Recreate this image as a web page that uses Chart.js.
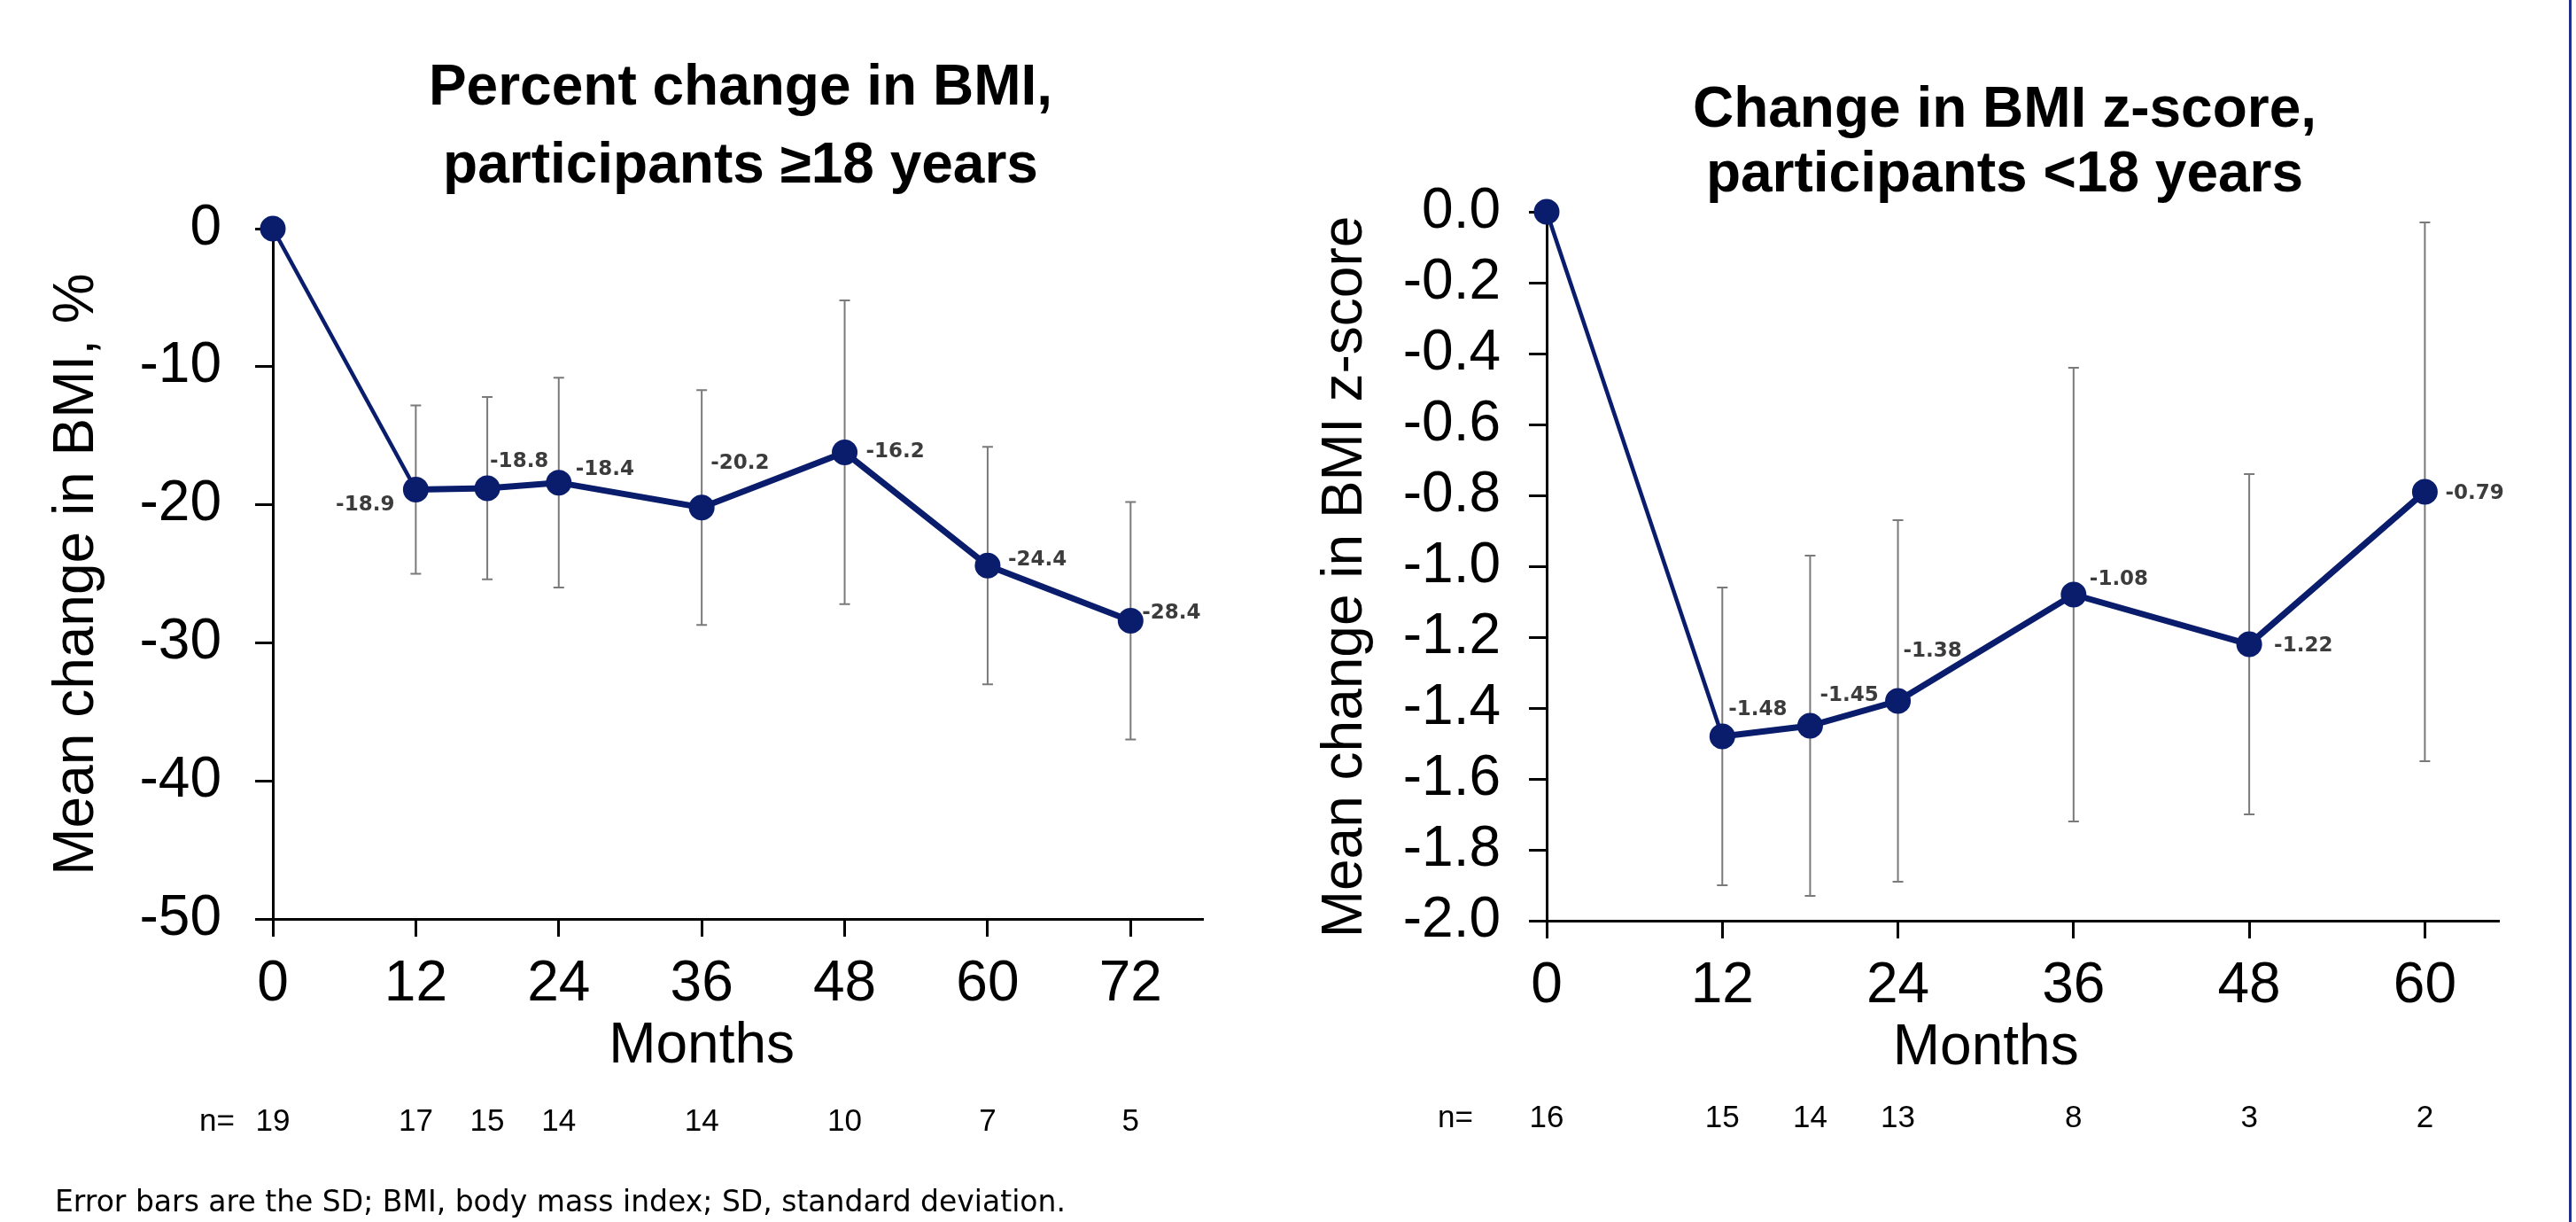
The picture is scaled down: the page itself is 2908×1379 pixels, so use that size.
<!DOCTYPE html>
<html>
<head>
<meta charset="utf-8">
<script src="https://cdn.jsdelivr.net/npm/chart.js@4/dist/chart.umd.min.js"></script>
<style>
  html, body { margin: 0; padding: 0; background: #fff; }
  body { width: 2908px; height: 1379px; position: relative; overflow: hidden; }
  #adult { position: absolute; left: 0; top: 0; }
  #child { position: absolute; left: 1450px; top: 0; }
  #note {
    position: absolute; left: 62px; top: 1339px;
    font: 33px/33px "DejaVu Sans", Verdana, sans-serif; color: #000; white-space: nowrap;
  }
  #edge { position: absolute; left: 2900px; top: 0; width: 3px; height: 1379px; background: #1f2f8f; }
</style>
</head>
<body>
<canvas id="adult" width="1450" height="1379"></canvas>
<canvas id="child" width="1458" height="1379"></canvas>
<div id="note">Error bars are the SD; BMI, body mass index; SD, standard deviation.</div>
<div id="edge"></div>

<script>
// ---- Participants aged 18 years and older: percent change in BMI ----
const adultMonths = [0, 12, 18, 24, 36, 48, 60, 72];
const adultMeanPct = [0, -18.9, -18.8, -18.4, -20.2, -16.2, -24.4, -28.4];
const adultSdPct = [0, 6.1, 6.6, 7.6, 8.5, 11.0, 8.6, 8.6];
const adultN = [19, 17, 15, 14, 14, 10, 7, 5];
const adultXTicks = [0, 12, 24, 36, 48, 60, 72];
const adultYTicks = [0, -10, -20, -30, -40, -50];

// ---- Participants younger than 18 years: change in BMI z-score ----
const childMonths = [0, 12, 18, 24, 36, 48, 60];
const childMeanZ = [0, -1.48, -1.45, -1.38, -1.08, -1.22, -0.79];
const childSdZ = [0, 0.42, 0.48, 0.51, 0.64, 0.48, 0.76];
const childN = [16, 15, 14, 13, 8, 3, 2];
const childXTicks = [0, 12, 24, 36, 48, 60];
const childYTicks = [0, -0.2, -0.4, -0.6, -0.8, -1.0, -1.2, -1.4, -1.6, -1.8, -2.0];

// Placement of the value labels next to each marker (pixels from the marker centre)
const adultLabelNudges = [null,
  { dx: -24, dy: 18, align: 'right' }, { dx: 3, dy: -30, align: 'left' },
  { dx: 19, dy: -15, align: 'left' }, { dx: 10, dy: -50, align: 'left' },
  { dx: 24, dy: 0, align: 'left' }, { dx: 23, dy: -6, align: 'left' },
  { dx: 13, dy: -8, align: 'left' }];
const childLabelNudges = [null,
  { dx: 7, dy: -30, align: 'left' }, { dx: 11, dy: -34, align: 'left' },
  { dx: 6, dy: -56, align: 'left' }, { dx: 18, dy: -17, align: 'left' },
  { dx: 28, dy: 2, align: 'left' }, { dx: 23, dy: 2, align: 'left' }];

const FONT = '"Liberation Sans", Arial, sans-serif';
const LABEL_FONT = '"DejaVu Sans", Verdana, sans-serif';
const NAVY = '#0a1c6c';

function buildChart(canvasId, cfg) {
  const points = cfg.months.map((m, i) => ({ x: m, y: cfg.means[i] }));

  // SD whiskers with small caps, drawn underneath the line and markers
  const errorBars = {
    id: 'errorBars',
    beforeDatasetsDraw(chart) {
      const { ctx, scales: { x, y } } = chart;
      ctx.save();
      ctx.strokeStyle = '#7a7a7a';
      ctx.lineWidth = 2;
      cfg.months.forEach((m, i) => {
        const sd = cfg.sds[i];
        if (!sd) return;
        const px = x.getPixelForValue(m);
        const top = y.getPixelForValue(cfg.means[i] + sd);
        const bot = y.getPixelForValue(cfg.means[i] - sd);
        ctx.beginPath();
        ctx.moveTo(px, top); ctx.lineTo(px, bot);
        ctx.moveTo(px - 6, top); ctx.lineTo(px + 6, top);
        ctx.moveTo(px - 6, bot); ctx.lineTo(px + 6, bot);
        ctx.stroke();
      });
      ctx.restore();
    }
  };

  // Titles, axis titles, value labels and the n= row under the axis
  const annotations = {
    id: 'annotations',
    afterDatasetsDraw(chart) {
      const { ctx, scales: { x, y } } = chart;
      ctx.save();
      ctx.fillStyle = '#3c3c3c';
      ctx.font = 'bold 23px ' + LABEL_FONT;
      ctx.textBaseline = 'middle';
      cfg.means.forEach((v, i) => {
        const nudge = cfg.nudges[i];
        if (!nudge) return;
        ctx.textAlign = nudge.align;
        ctx.fillText(cfg.fmt(v), x.getPixelForValue(cfg.months[i]) + nudge.dx,
                     y.getPixelForValue(v) + nudge.dy);
      });
      ctx.restore();
    },
    afterDraw(chart) {
      const { ctx, chartArea, scales: { x } } = chart;
      ctx.save();
      ctx.fillStyle = '#000';

      // chart title
      ctx.font = 'bold 64px ' + FONT;
      ctx.textAlign = 'center';
      ctx.textBaseline = 'alphabetic';
      cfg.title.forEach((line, k) => ctx.fillText(line, cfg.titleX, cfg.titleBase[k]));

      // x axis title centred over the tick range
      ctx.font = '64px ' + FONT;
      const first = x.getPixelForValue(cfg.xTicks[0]);
      const last = x.getPixelForValue(cfg.xTicks[cfg.xTicks.length - 1]);
      ctx.fillText('Months', (first + last) / 2, chartArea.bottom + 162);

      // y axis title
      ctx.save();
      ctx.translate(cfg.yTitleX, cfg.yTitleY);
      ctx.rotate(-Math.PI / 2);
      ctx.textBaseline = 'middle';
      ctx.fillText(cfg.yTitle, 0, 0);
      ctx.restore();

      // participants at each visit
      ctx.font = '35px ' + FONT;
      ctx.textAlign = 'center';
      ctx.fillText('n=', cfg.nLabelX, cfg.nBase);
      cfg.n.forEach((n, i) => ctx.fillText(String(n), x.getPixelForValue(cfg.months[i]), cfg.nBase));
      ctx.restore();
    }
  };

  const axisLine = { display: true, color: '#000', width: 3 };
  const tickMarks = { display: true, drawOnChartArea: false, drawTicks: true, tickLength: 20, color: '#000', lineWidth: 3 };

  return new Chart(document.getElementById(canvasId), {
    type: 'line',
    data: {
      datasets: [{
        data: points,
        borderColor: NAVY,
        borderWidth: 7,
        segment: { borderWidth: ctx => (ctx.p0DataIndex === 0 ? 4.5 : 7) },
        pointRadius: 14.5,
        pointHoverRadius: 14.5,
        pointBackgroundColor: NAVY,
        pointBorderWidth: 0,
        tension: 0,
        clip: false
      }]
    },
    options: {
      responsive: false,
      animation: false,
      devicePixelRatio: 1,
      events: [],
      layout: { padding: cfg.padding },
      plugins: { legend: { display: false }, tooltip: { enabled: false }, title: { display: false } },
      scales: {
        x: {
          type: 'linear',
          min: 0,
          max: cfg.xMax,
          afterBuildTicks: s => { s.ticks = cfg.xTicks.map(v => ({ value: v })); },
          afterFit: s => { s.height = cfg.xAxisHeight; },
          ticks: {
            font: { family: FONT, size: 64, lineHeight: 1.2 },
            color: '#000', padding: 16, maxRotation: 0, autoSkip: false
          },
          grid: tickMarks,
          border: axisLine
        },
        y: {
          type: 'linear',
          min: cfg.yTicks[cfg.yTicks.length - 1],
          max: cfg.yTicks[0],
          afterBuildTicks: s => { s.ticks = cfg.yTicks.map(v => ({ value: v })); },
          afterFit: s => { s.width = cfg.yAxisWidth; },
          ticks: {
            font: { family: FONT, size: 64, lineHeight: 1.2 },
            color: '#000', padding: cfg.yTickPad, autoSkip: false,
            callback: v => cfg.tickFmt(v)
          },
          grid: tickMarks,
          border: axisLine
        }
      }
    },
    plugins: [errorBars, annotations]
  });
}

buildChart('adult', {
  months: adultMonths, means: adultMeanPct, sds: adultSdPct, n: adultN,
  xTicks: adultXTicks, yTicks: adultYTicks, xMax: 78,
  nudges: adultLabelNudges,
  fmt: v => v.toFixed(1),
  tickFmt: v => v.toFixed(0),
  title: ['Percent change in BMI,', 'participants \u226518 years'],
  titleX: 836, titleBase: [118, 206],
  yTitle: 'Mean change in BMI, %', yTitleX: 87, yTitleY: 648,
  nLabelX: 245, nBase: 1276,
  padding: { top: 258, left: 0, right: 93, bottom: 0 },
  yAxisWidth: 308, xAxisHeight: 342, yTickPad: 38
});

buildChart('child', {
  months: childMonths, means: childMeanZ, sds: childSdZ, n: childN,
  xTicks: childXTicks, yTicks: childYTicks, xMax: 65,
  nudges: childLabelNudges,
  fmt: v => v.toFixed(2),
  tickFmt: v => v.toFixed(1),
  title: ['Change in BMI z-score,', 'participants <18 years'],
  titleX: 813, titleBase: [143, 216],
  yTitle: 'Mean change in BMI z-score', yTitleX: 69, yTitleY: 651,
  nLabelX: 193, nBase: 1272,
  padding: { top: 239, left: 0, right: 88, bottom: 0 },
  yAxisWidth: 296, xAxisHeight: 340, yTickPad: 32
});
</script>
</body>
</html>
